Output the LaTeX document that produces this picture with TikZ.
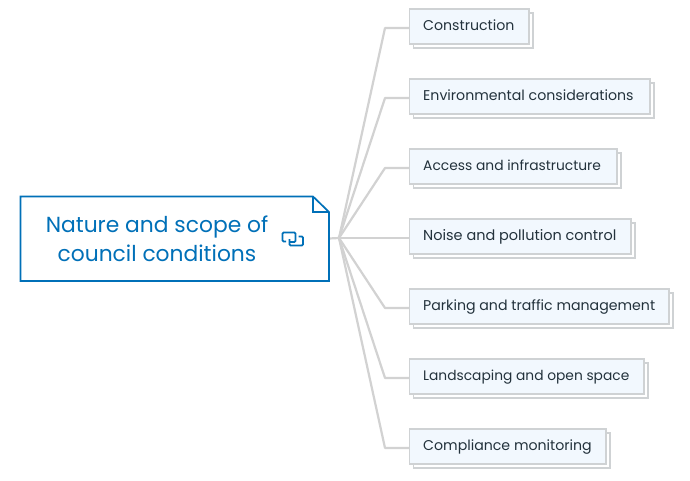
\documentclass[tikz,border=0pt]{standalone}
\usepackage{fontspec}
\setmainfont{Poppins}
\definecolor{rootblue}{HTML}{0070B8}
\definecolor{linegray}{HTML}{D2D2D2}
\definecolor{leaffill}{HTML}{F2F8FE}
\definecolor{leafline}{HTML}{CFD2D4}
\definecolor{leaftext}{HTML}{23323C}
\tikzset{
  x=1pt,y=-1pt,
  conn/.style={draw=linegray,line width=2.2pt,line join=round},
  leafbox/.style={draw=leafline,fill=leaffill,line width=1.5pt,anchor=north west,
    minimum height=35pt,inner sep=0pt,outer sep=0pt},
  leafshadow/.style={draw=leafline,fill=white,line width=1.5pt},
  leaflabel/.style={anchor=base west,inner sep=0pt,text=leaftext},
  roottext/.style={text=rootblue,font=\fontsize{21.8}{29}\selectfont,align=center},
  rootline/.style={draw=rootblue,line width=1.7pt,line join=miter},
  iconline/.style={draw=rootblue,line width=1.8pt,rounded corners=1.2pt}
}
\newcommand{\leaf}[5]{% name, top y, right x, font size, text
  \draw[leafshadow] (413.5,#2+4) rectangle (#3+4,#2+39);
  \node[leafbox,minimum width=#3pt-409.5pt] (#1) at (409.5,#2) {};
  \node[leaflabel,font=\fontsize{#4}{16}\selectfont] (#1t) at (423,#2+21.5) {#5};
}
\begin{document}
\begin{tikzpicture}
\useasboundingbox (0,0) rectangle (690,481);
\fill[white] (0,0) rectangle (690,481);
\coordinate (hub) at (339,238);
\foreach \nm/\ty/\rx/\fs/\tx in {
  a/9/529/14.15/Construction,
  b/79/650/14.15/Environmental considerations,
  c/149/617/13.84/Access and infrastructure,
  d/219/631/14.45/Noise and pollution control,
  e/289/669/14.15/Parking and traffic management,
  f/359/644/13.8/Landscaping and open space,
  g/429/606/14.15/Compliance monitoring}{
  \draw[conn] (hub) -- (385,\ty+19) -- (409,\ty+19);
  \leaf{\nm}{\ty}{\rx}{\fs}{\tx}
}
\node[minimum width=309pt,minimum height=85pt,inner sep=0pt] (root) at (174.5,238.5) {};
\draw[conn] (root.east) -- (hub);
\draw[rootline,fill=white] (20.5,196.5) -- (313,196.5) -- (329,212) -- (329,281) -- (20.5,281) -- cycle;
\draw[rootline] (313,196.5) -- (313,212) -- (329,212);
\node[roottext] (roott) at (157,238.5) {Nature and scope of\\council conditions};
\draw[iconline] (286,241.5) -- (282.5,241.5) -- (282.5,232.5) -- (295.5,232.5) -- (295.5,242) -- (290,242);
\draw[iconline] (289.5,239) -- (289.5,245.5) -- (303,245.5) -- (303,236.5) -- (298.5,236.5);
\end{tikzpicture}
\end{document}
